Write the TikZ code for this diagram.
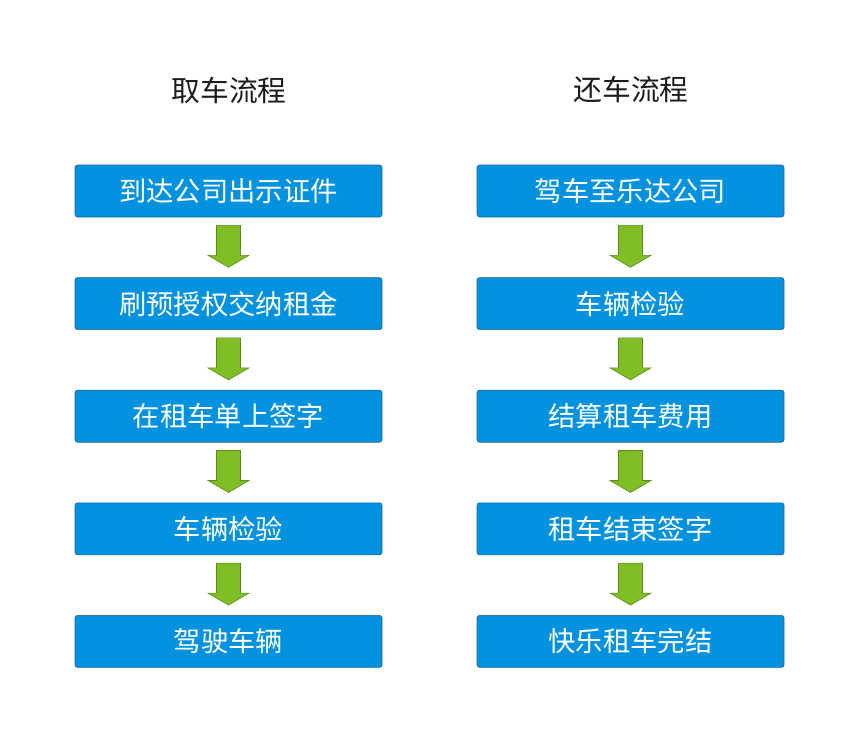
\documentclass[tikz,border=0pt]{standalone}
\usepackage{fontspec}
\setmainfont{Noto Sans CJK SC}
\definecolor{stepBlue}{RGB}{0,146,222}
\definecolor{stepFrame}{RGB}{30,98,150}
\definecolor{arrowGreen}{RGB}{128,190,38}
\definecolor{arrowFrame}{RGB}{92,138,28}
\definecolor{titleInk}{RGB}{28,28,28}
\usetikzlibrary{positioning,calc}

\tikzset{
  stepbox/.style={draw=stepFrame, line width=0.6pt, fill=stepBlue, rounded corners=2.5pt,
    minimum width=307pt, minimum height=52pt, inner sep=0pt, text=white,
    font=\fontsize{27.3}{27.3}\selectfont},
  flowtitle/.style={text=titleInk, font=\fontsize{28.8}{28.8}\selectfont},
  downarrow/.style={draw=arrowFrame, fill=arrowGreen, line width=0.6pt, line join=miter}
}

% block arrow from the bottom of one step to the top of the next
\newcommand{\flowarrow}[2]{%
  \draw[downarrow] ($(#1.south)+(-12,8)$) -- ($(#1.south)+(12,8)$)
    -- ($(#2.north)+(12,-22)$) -- ($(#2.north)+(20.5,-22)$)
    -- ($(#2.north)+(0,-10)$) -- ($(#2.north)+(-20.5,-22)$)
    -- ($(#2.north)+(-12,-22)$) -- cycle;}

\begin{document}
\begin{tikzpicture}[x=1pt, y=-1pt, node distance=60pt]
  \useasboundingbox (0,0) rectangle (859,744);

  % pick-up column
  \node[flowtitle] (pickTitle) at (229,90) {取车流程};
  \node[stepbox] (pickA) at (228.5,191) {到达公司出示证件};
  \node[stepbox, below=of pickA] (pickB) {刷预授权交纳租金};
  \node[stepbox, below=of pickB] (pickC) {在租车单上签字};
  \node[stepbox, below=of pickC] (pickD) {车辆检验};
  \node[stepbox, below=of pickD] (pickE) {驾驶车辆};

  % return column
  \node[flowtitle] (backTitle) at (631,90) {还车流程};
  \node[stepbox] (backA) at (630.5,191) {驾车至乐达公司};
  \node[stepbox, below=of backA] (backB) {车辆检验};
  \node[stepbox, below=of backB] (backC) {结算租车费用};
  \node[stepbox, below=of backC] (backD) {租车结束签字};
  \node[stepbox, below=of backD] (backE) {快乐租车完结};

  \flowarrow{pickA}{pickB}
  \flowarrow{pickB}{pickC}
  \flowarrow{pickC}{pickD}
  \flowarrow{pickD}{pickE}
  \flowarrow{backA}{backB}
  \flowarrow{backB}{backC}
  \flowarrow{backC}{backD}
  \flowarrow{backD}{backE}
\end{tikzpicture}
\end{document}
